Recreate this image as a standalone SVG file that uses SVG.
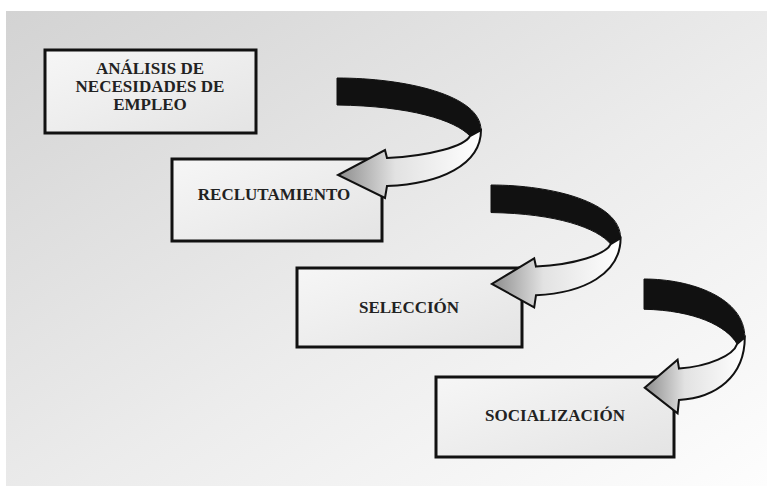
<svg xmlns="http://www.w3.org/2000/svg" xmlns:xlink="http://www.w3.org/1999/xlink" width="767" height="487" viewBox="0 0 767 487">
<defs>
<linearGradient id="bg" x1="0" y1="0" x2="1" y2="1">
<stop offset="0" stop-color="#d3d3d3"/>
<stop offset="0.55" stop-color="#ececec"/>
<stop offset="1" stop-color="#fdfdfd"/>
</linearGradient>
<linearGradient id="boxfill" x1="0" y1="0" x2="1" y2="1">
<stop offset="0" stop-color="#f6f6f6"/>
<stop offset="1" stop-color="#e4e4e4"/>
</linearGradient>
<linearGradient id="arrowfill" x1="0" y1="0" x2="1" y2="0">
<stop offset="0" stop-color="#8c8c8c"/>
<stop offset="0.4" stop-color="#e2e2e2"/>
<stop offset="1" stop-color="#ffffff"/>
</linearGradient>
<g id="curvedArrow">
<path class="back" d="M0,0 C68,0 144,17 144,52 L133,58 C118,42 73,28 0,27 Z"/>
<path class="front" d="M133,58 C128,68 93,78 50,80 L48,72 L1,97 L48,120 L50,108 C103,106 144,87 144,52 Z"/>
</g>
<style>
.box{fill:url(#boxfill);stroke:#111;stroke-width:3}
.lbl{font-family:"Liberation Serif","Times New Roman",serif;font-weight:bold;font-size:17px;fill:#222;text-anchor:middle}
.back{fill:#111;stroke:#111;stroke-width:1;vector-effect:non-scaling-stroke}
.front{fill:url(#arrowfill);stroke:#111;stroke-width:2;stroke-linejoin:miter;vector-effect:non-scaling-stroke}
</style>
</defs>
<rect x="0" y="0" width="767" height="487" fill="#ffffff"/>
<rect x="6" y="11" width="761" height="475" fill="url(#bg)"/>
<g id="node-analisis">
<rect class="box" x="45" y="50" width="211" height="83"/>
<text class="lbl" x="150" y="74">ANÁLISIS DE</text>
<text class="lbl" x="150" y="92">NECESIDADES DE</text>
<text class="lbl" x="150" y="110">EMPLEO</text>
</g>
<g id="node-reclutamiento">
<rect class="box" x="172" y="159" width="210" height="82"/>
<text class="lbl" x="274" y="200">RECLUTAMIENTO</text>
</g>
<g id="node-seleccion">
<rect class="box" x="297" y="268" width="225" height="79"/>
<text class="lbl" x="409" y="313">SELECCIÓN</text>
</g>
<g id="node-socializacion">
<rect class="box" x="436" y="377" width="238" height="80"/>
<text class="lbl" x="555" y="421">SOCIALIZACIÓN</text>
</g>
<g id="connectors">
<use xlink:href="#curvedArrow" transform="translate(337,78)"/>
<use xlink:href="#curvedArrow" transform="translate(491,185) scale(0.9,1.02)"/>
<use xlink:href="#curvedArrow" transform="translate(644,279) scale(0.7,1.12)"/>
</g>
</svg>
